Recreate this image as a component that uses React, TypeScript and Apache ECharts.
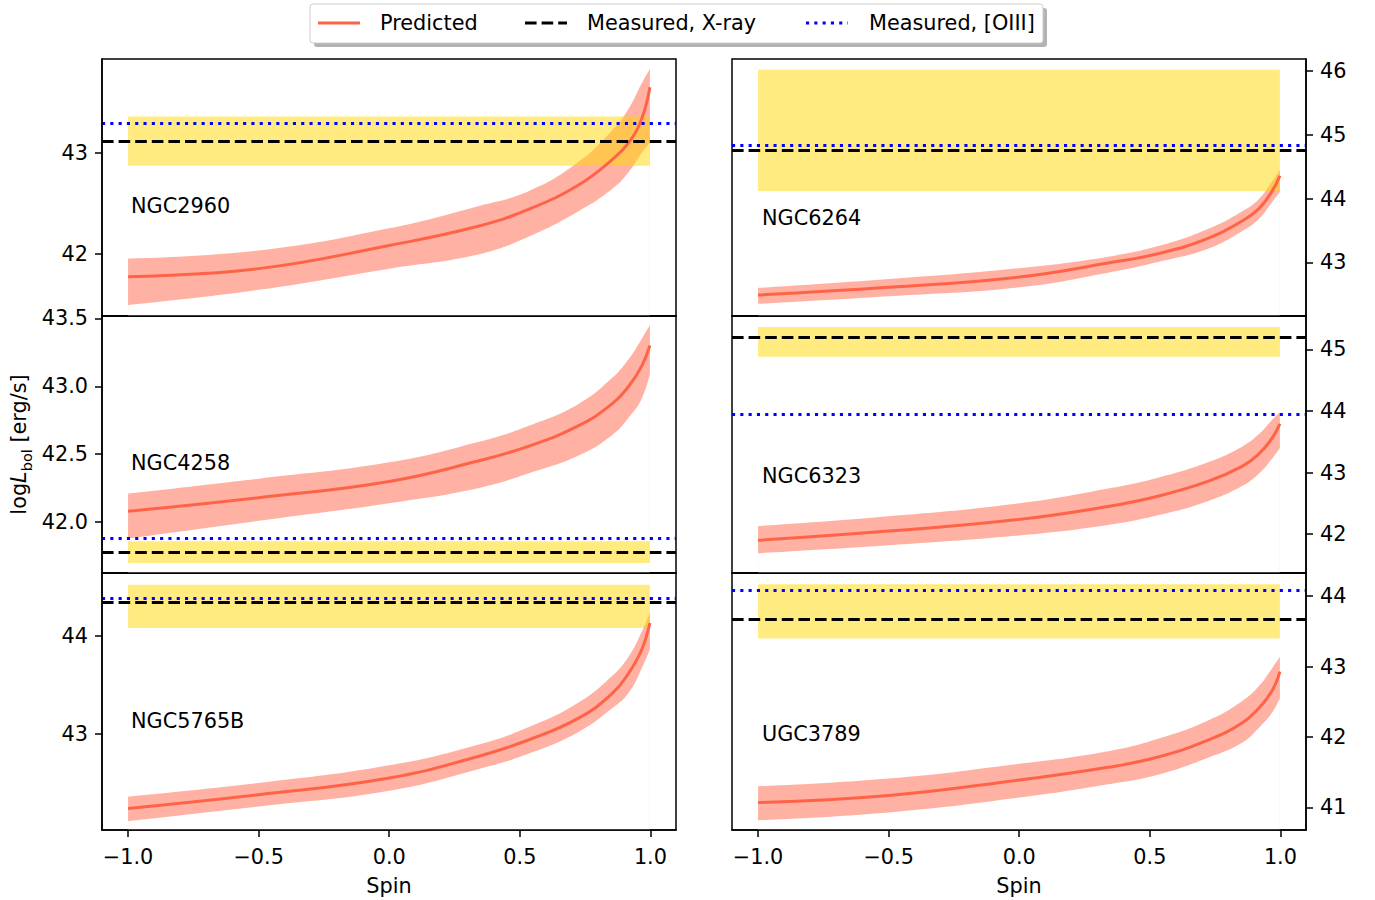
import React, { useEffect, useRef } from "react";
import * as echarts from "echarts";

// ---- data ----
const SPIN = [-1, -0.5, 0, 0.34, 0.535, 0.725, 0.853, 0.917, 0.967, 0.998];
const X_TICKS = [-1, -0.5, 0, 0.5, 1];

const NGC2960_PRED = [41.77, 41.85, 42.08, 42.27, 42.44, 42.68, 42.93, 43.1, 43.34, 43.65];
const NGC2960_LOW = [41.49, 41.64, 41.85, 41.99, 42.17, 42.42, 42.64, 42.81, 43.0, 43.1];
const NGC2960_HIGH = [41.95, 42.03, 42.25, 42.47, 42.62, 42.91, 43.22, 43.44, 43.69, 43.83];
const NGC2960_XRAY = [42.87, 43.11, 43.36]; // low, value, high
const NGC2960_OIII = 43.29;

const NGC4258_PRED = [42.08, 42.18, 42.3, 42.45, 42.56, 42.71, 42.87, 43.0, 43.15, 43.3];
const NGC4258_LOW = [41.88, 42.01, 42.14, 42.25, 42.36, 42.49, 42.64, 42.77, 42.91, 43.09];
const NGC4258_HIGH = [42.21, 42.32, 42.44, 42.59, 42.71, 42.87, 43.06, 43.2, 43.35, 43.45];
const NGC4258_XRAY = [41.7, 41.78, 41.86];
const NGC4258_OIII = 41.88;

const NGC5765B_PRED = [42.24, 42.38, 42.55, 42.77, 42.94, 43.16, 43.41, 43.62, 43.86, 44.13];
const NGC5765B_LOW = [42.11, 42.26, 42.42, 42.64, 42.8, 43.02, 43.26, 43.42, 43.67, 43.86];
const NGC5765B_HIGH = [42.36, 42.5, 42.68, 42.89, 43.07, 43.32, 43.59, 43.79, 44.04, 44.24];
const NGC5765B_XRAY = [44.08, 44.34, 44.52];
const NGC5765B_OIII = 44.38;

const NGC6264_PRED = [42.49, 42.61, 42.77, 42.99, 43.14, 43.38, 43.65, 43.84, 44.11, 44.36];
const NGC6264_LOW = [42.35, 42.47, 42.61, 42.84, 43.01, 43.22, 43.49, 43.68, 43.94, 44.11];
const NGC6264_HIGH = [42.6, 42.74, 42.91, 43.09, 43.26, 43.53, 43.8, 43.99, 44.26, 44.45];
const NGC6264_XRAY = [44.12, 44.76, 46.02];
const NGC6264_OIII = 44.83;

const NGC6323_PRED = [41.9, 42.05, 42.24, 42.45, 42.62, 42.86, 43.1, 43.3, 43.55, 43.79];
const NGC6323_LOW = [41.69, 41.82, 41.98, 42.15, 42.31, 42.54, 42.78, 42.98, 43.22, 43.4];
const NGC6323_HIGH = [42.13, 42.29, 42.5, 42.74, 42.92, 43.17, 43.42, 43.62, 43.85, 43.98];
const NGC6323_XRAY = [44.88, 45.2, 45.36];
const NGC6323_OIII = 43.95;

const UGC3789_PRED = [41.07, 41.17, 41.39, 41.57, 41.72, 41.96, 42.2, 42.41, 42.65, 42.93];
const UGC3789_LOW = [40.82, 40.93, 41.14, 41.33, 41.47, 41.71, 41.92, 42.13, 42.34, 42.55];
const UGC3789_HIGH = [41.3, 41.41, 41.62, 41.8, 41.98, 42.24, 42.51, 42.72, 42.97, 43.14];
const UGC3789_XRAY = [43.4, 43.67, 44.17];
const UGC3789_OIII = 44.09;

const PANELS = [
  { name: "NGC2960", pred: NGC2960_PRED, low: NGC2960_LOW, high: NGC2960_HIGH, xray: NGC2960_XRAY, oiii: NGC2960_OIII, yTicks: [42, 43], dec: 0 },
  { name: "NGC4258", pred: NGC4258_PRED, low: NGC4258_LOW, high: NGC4258_HIGH, xray: NGC4258_XRAY, oiii: NGC4258_OIII, yTicks: [42, 42.5, 43, 43.5], dec: 1 },
  { name: "NGC5765B", pred: NGC5765B_PRED, low: NGC5765B_LOW, high: NGC5765B_HIGH, xray: NGC5765B_XRAY, oiii: NGC5765B_OIII, yTicks: [43, 44], dec: 0 },
  { name: "NGC6264", pred: NGC6264_PRED, low: NGC6264_LOW, high: NGC6264_HIGH, xray: NGC6264_XRAY, oiii: NGC6264_OIII, yTicks: [43, 44, 45, 46], dec: 0 },
  { name: "NGC6323", pred: NGC6323_PRED, low: NGC6323_LOW, high: NGC6323_HIGH, xray: NGC6323_XRAY, oiii: NGC6323_OIII, yTicks: [42, 43, 44, 45], dec: 0 },
  { name: "UGC3789", pred: UGC3789_PRED, low: UGC3789_LOW, high: UGC3789_HIGH, xray: UGC3789_XRAY, oiii: UGC3789_OIII, yTicks: [41, 42, 43, 44], dec: 0 },
];

// ---- layout ----
const Y_RANGES = [
  [41.38, 43.93],
  [41.626, 43.517],
  [42.02, 44.64],
  [42.16, 46.19],
  [41.37, 45.54],
  [40.68, 44.33],
];
const LABEL_POS = [
  [131, 206],
  [131, 463],
  [131, 721],
  [762, 218],
  [762, 476],
  [762, 734],
];

const FONT = "DejaVu Sans";
const FS = 20.8;
const RED = "#FF6347";
const PINK = "#FFB1A3";
const YELLOW = "rgba(255,215,0,0.5)";
const DASH = [11.6, 5];
const DOT = [3.1, 5.2];
const SMOOTH = 0.45;

const fmt = (v: number, d: number) => (v < 0 ? "\u2212" : "") + Math.abs(v).toFixed(d);

export default function App() {
  const ref = useRef<HTMLDivElement>(null);
  useEffect(() => {
    const chart = echarts.init(ref.current!, null, { renderer: "svg" });
    const grids: any[] = [];
    const xAxes: any[] = [];
    const yAxes: any[] = [];
    const series: any[] = [];
    const axisLineStyle = { color: "#000", width: 1.5 };

    PANELS.forEach((p, i) => {
      const col = i < 3 ? 0 : 1;
      const row = i % 3;
      grids.push({
        left: col ? 732 : 102,
        width: 574,
        top: 59 + row * 257,
        height: 257,
        show: true,
        borderColor: "#000",
        borderWidth: 1.5,
        backgroundColor: "transparent",
      });
      xAxes.push({
        gridIndex: i,
        type: "value",
        min: -1.0999,
        max: 1.098,
        z: 10,
        axisLine: { show: true, onZero: false, lineStyle: axisLineStyle },
        axisTick: { show: row === 2, customValues: X_TICKS, length: 7, lineStyle: axisLineStyle },
        axisLabel: {
          show: row === 2,
          customValues: X_TICKS,
          formatter: (v: number) => fmt(v, 1),
          margin: 16,
          fontSize: FS,
          fontFamily: FONT,
          color: "#000",
        },
        splitLine: { show: false },
        name: row === 2 ? "Spin" : "",
        nameLocation: "middle",
        nameGap: 45,
        nameTextStyle: { fontSize: FS, fontFamily: FONT, color: "#000" },
      });
      const y: any = {
        gridIndex: i,
        type: "value",
        position: col ? "right" : "left",
        min: Y_RANGES[i][0],
        max: Y_RANGES[i][1],
        z: 10,
        axisLine: { show: true, onZero: false, lineStyle: axisLineStyle },
        axisTick: { show: true, customValues: p.yTicks, length: 7, lineStyle: axisLineStyle },
        axisLabel: {
          customValues: p.yTicks,
          formatter: (v: number) => fmt(v, p.dec),
          margin: 14,
          fontSize: FS,
          fontFamily: FONT,
          color: "#000",
        },
        splitLine: { show: false },
      };
      if (i === 1) {
        y.name = "{n|log}{i|L}{s|bol}{n| [erg/s]}";
        y.nameLocation = "middle";
        y.nameRotate = 90;
        y.nameGap = 68;
        y.nameTextStyle = {
          rich: {
            n: { fontSize: FS, fontFamily: FONT, color: "#000", verticalAlign: "bottom", padding: [0, 0, 5, 0] },
            i: { fontSize: FS, fontFamily: FONT, fontStyle: "italic", color: "#000", verticalAlign: "bottom", padding: [0, 0, 5, 0] },
            s: { fontSize: 14.5, fontFamily: FONT, color: "#000", verticalAlign: "bottom" },
          },
        };
      }
      yAxes.push(y);

      const highData = SPIN.map((s, k) => [s, p.high[k]]);
      const lowData = SPIN.map((s, k) => [s, p.low[k]]);
      const predData = SPIN.map((s, k) => [s, p.pred[k]]);
      const common = {
        type: "line",
        xAxisIndex: i,
        yAxisIndex: i,
        showSymbol: false,
        symbol: "none",
        silent: true,
        smooth: SMOOTH,
      };
      // pink band: fill below the upper edge, then mask below the lower edge
      series.push({
        ...common,
        name: "band-high-" + i,
        data: highData,
        lineStyle: { width: 0, opacity: 0 },
        areaStyle: { color: PINK, opacity: 1, origin: "start" },
        z: 1,
      });
      series.push({
        ...common,
        name: "band-low-" + i,
        data: lowData,
        lineStyle: { width: 0, opacity: 0 },
        areaStyle: { color: "#fff", opacity: 1, origin: "start" },
        z: 1,
      });
      // measured X-ray range (yellow), semi-transparent above the band
      series.push({
        type: "custom",
        name: "xray-range-" + i,
        xAxisIndex: i,
        yAxisIndex: i,
        silent: true,
        z: 3,
        data: [[SPIN[0], p.xray[0], SPIN[SPIN.length - 1], p.xray[2]]],
        encode: { x: [0, 2], y: [1, 3] },
        renderItem: (params: any, api: any) => {
          const a = api.coord([api.value(0), api.value(1)]);
          const b = api.coord([api.value(2), api.value(3)]);
          return {
            type: "rect",
            shape: { x: a[0], y: b[1], width: b[0] - a[0], height: a[1] - b[1] },
            style: { fill: YELLOW },
          };
        },
      });
      series.push({
        ...common,
        name: "Predicted",
        data: predData,
        lineStyle: { color: RED, width: 3 },
        markLine: {
          silent: true,
          z: 8,
          symbol: ["none", "none"],
          label: { show: false },
          data: [
            { yAxis: p.xray[1], lineStyle: { color: "#000", width: 3, type: DASH } },
            { yAxis: p.oiii, lineStyle: { color: "#0000FF", width: 3, type: DOT } },
          ],
        },
        z: 6,
      });
    });

    const graphics: any[] = [
      { type: "rect", shape: { x: 314, y: 8, width: 733, height: 39, r: 3 }, style: { fill: "#b3b3b3" }, z: 10 },
      { type: "rect", shape: { x: 310, y: 4, width: 733, height: 39, r: 3 }, style: { fill: "#fff", stroke: "#cccccc", lineWidth: 1 }, z: 11 },
      { type: "line", shape: { x1: 318, y1: 23, x2: 360, y2: 23 }, style: { stroke: RED, lineWidth: 3 }, z: 12 },
      { type: "text", x: 380, y: 23, style: { text: "Predicted", fontSize: FS, fontFamily: FONT, fill: "#000", verticalAlign: "middle" }, z: 12 },
      { type: "line", shape: { x1: 525, y1: 23, x2: 567, y2: 23 }, style: { stroke: "#000", lineWidth: 3, lineDash: DASH }, z: 12 },
      { type: "text", x: 587, y: 23, style: { text: "Measured, X-ray", fontSize: FS, fontFamily: FONT, fill: "#000", verticalAlign: "middle" }, z: 12 },
      { type: "line", shape: { x1: 806, y1: 23, x2: 848, y2: 23 }, style: { stroke: "#0000FF", lineWidth: 3, lineDash: DOT }, z: 12 },
      { type: "text", x: 869, y: 23, style: { text: "Measured, [OIII]", fontSize: FS, fontFamily: FONT, fill: "#000", verticalAlign: "middle" }, z: 12 },
    ];
    PANELS.forEach((p, i) => {
      graphics.push({
        type: "text",
        x: LABEL_POS[i][0],
        y: LABEL_POS[i][1],
        style: { text: p.name, fontSize: FS, fontFamily: FONT, fill: "#000", verticalAlign: "middle" },
        z: 12,
      });
    });

    chart.setOption({
      animation: false,
      backgroundColor: "#fff",
      textStyle: { fontFamily: FONT, fontSize: FS, color: "#000" },
      grid: grids,
      xAxis: xAxes,
      yAxis: yAxes,
      series,
      graphic: graphics,
    });
    return () => chart.dispose();
  }, []);
  return <div ref={ref} style={{ position: "absolute", left: 0, top: 0, width: 1375, height: 900 }} />;
}
